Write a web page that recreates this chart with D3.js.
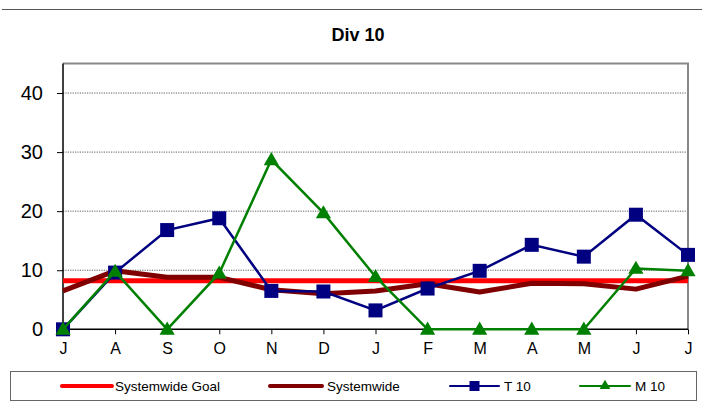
<!DOCTYPE html>
<html><head><meta charset="utf-8">
<script src="https://cdn.jsdelivr.net/npm/d3@7/dist/d3.min.js"></script>
<style>body{margin:0;background:#fff}svg{display:block}text{font-family:Arial,"Liberation Sans",sans-serif}</style>
</head><body>
<svg id="c" width="702" height="405"></svg>
<script>
const months = ["J","A","S","O","N","D","J","F","M","A","M","J","J"];
const goal = [8.2,8.2,8.2,8.2,8.2,8.2,8.2,8.2,8.2,8.2,8.2,8.2,8.2];
const systemwide = [6.5,9.9,8.8,8.8,6.7,6.0,6.5,7.7,6.3,7.8,7.7,6.8,9.0];
const t10 = [0,9.6,16.8,18.8,6.5,6.4,3.2,6.9,9.9,14.3,12.3,19.4,12.6];
const m10 = [0,9.8,0,9.5,28.7,19.7,8.9,0,0,0,0,10.3,9.9];
const yTicks = [0,10,20,30,40];
const seriesNames = ["Systemwide Goal","Systemwide","T 10","M 10"];

const svg = d3.select("#c");
const L=63, R=688, T=63.5, B=329.3;
const x = d3.scalePoint().domain(d3.range(months.length)).range([L,R]);
const y = d3.scaleLinear().domain([0,45]).range([B,T]);

// top rule
svg.append("line").attr("x1",2).attr("x2",702).attr("y1",9.5).attr("y2",9.5).attr("stroke","#555").attr("stroke-width",1);

// title
svg.append("text").attr("x",358).attr("y",41).attr("text-anchor","middle")
  .attr("font-size",18).attr("font-weight","bold").text("Div 10");

// gridlines
svg.append("g").selectAll("line").data(yTicks.filter(d=>d>0)).join("line")
  .attr("x1",L).attr("x2",R).attr("y1",d=>y(d)).attr("y2",d=>y(d))
  .attr("stroke","#333").attr("stroke-width",0.8).attr("stroke-dasharray","1.2,1.2");

// frame top/right
svg.append("path").attr("d",`M${L},${T}H${R}V${B}`).attr("fill","none").attr("stroke","#888").attr("stroke-width",2);

// y axis
const ya = svg.append("g").attr("transform",`translate(${L},0)`)
  .call(d3.axisLeft(y).tickValues(yTicks).tickSize(6).tickPadding(14).tickSizeOuter(0));
ya.select(".domain").attr("stroke","#000").attr("stroke-width",1.5).attr("d",`M0,${T}V${B}`);
ya.selectAll(".tick line").attr("stroke","#000");
ya.selectAll("text").attr("font-size",20).attr("fill","#000").attr("font-family",'Arial,"Liberation Sans",sans-serif');

// x axis
const xa = svg.append("g").attr("transform",`translate(0,${B})`)
  .call(d3.axisBottom(x).tickFormat(i=>months[i]).tickSize(5).tickPadding(8).tickSizeOuter(0));
xa.select(".domain").attr("stroke","#000").attr("stroke-width",1.5).attr("d",`M${L},0H${R}`);
xa.selectAll(".tick line").attr("stroke","#000");
xa.selectAll("text").attr("font-size",16).attr("fill","#000").attr("font-family",'Arial,"Liberation Sans",sans-serif');

const line = d3.line().x((d,i)=>x(i)).y(d=>y(d));
svg.append("path").datum(goal).attr("d",line).attr("fill","none").attr("stroke","#ff0000").attr("stroke-width",5);
svg.append("path").datum(systemwide).attr("d",line).attr("fill","none").attr("stroke","#800000").attr("stroke-width",5).attr("stroke-linejoin","round");
svg.append("path").datum(t10).attr("d",line).attr("fill","none").attr("stroke","#000080").attr("stroke-width",2.5);
svg.append("g").selectAll("rect").data(t10).join("rect")
  .attr("x",(d,i)=>x(i)-7).attr("y",d=>y(d)-7).attr("width",14).attr("height",14).attr("fill","#000080");
svg.append("path").datum(m10).attr("d",line).attr("fill","none").attr("stroke","#008000").attr("stroke-width",2.5);
const tri = d3.symbol().type(d3.symbolTriangle).size(100);
svg.append("g").selectAll("path").data(m10).join("path")
  .attr("d",tri).attr("transform",(d,i)=>`translate(${x(i)},${y(d)+1})`).attr("fill","#008000");

// legend
svg.append("rect").attr("x",10.5).attr("y",371.5).attr("width",686).attr("height",29).attr("fill","none").attr("stroke","#666").attr("stroke-width",1);
const ly = 386;
const leg = [
  {n:seriesNames[0],c:"#ff0000",w:4,x1:62,x2:112,tx:115,m:null},
  {n:seriesNames[1],c:"#800000",w:4,x1:270,x2:322,tx:327,m:null},
  {n:seriesNames[2],c:"#000080",w:2,x1:450,x2:499,tx:504,m:"sq"},
  {n:seriesNames[3],c:"#008000",w:2,x1:580,x2:630,tx:635,m:"tri"}
];
const lg = svg.append("g").selectAll("g").data(leg).join("g");
lg.append("line").attr("x1",d=>d.x1).attr("x2",d=>d.x2).attr("y1",ly).attr("y2",ly).attr("stroke",d=>d.c).attr("stroke-width",d=>d.w).attr("stroke-linecap","round");
lg.filter(d=>d.m==="sq").append("rect").attr("x",d=>(d.x1+d.x2)/2-5).attr("y",ly-5).attr("width",10).attr("height",10).attr("fill",d=>d.c);
lg.filter(d=>d.m==="tri").append("path").attr("d",d3.symbol().type(d3.symbolTriangle).size(50)).attr("transform",d=>`translate(${(d.x1+d.x2)/2},${ly})`).attr("fill",d=>d.c);
lg.append("text").attr("x",d=>d.tx).attr("y",ly+5).attr("font-size",13.5).text(d=>d.n);
</script>
</body></html>
